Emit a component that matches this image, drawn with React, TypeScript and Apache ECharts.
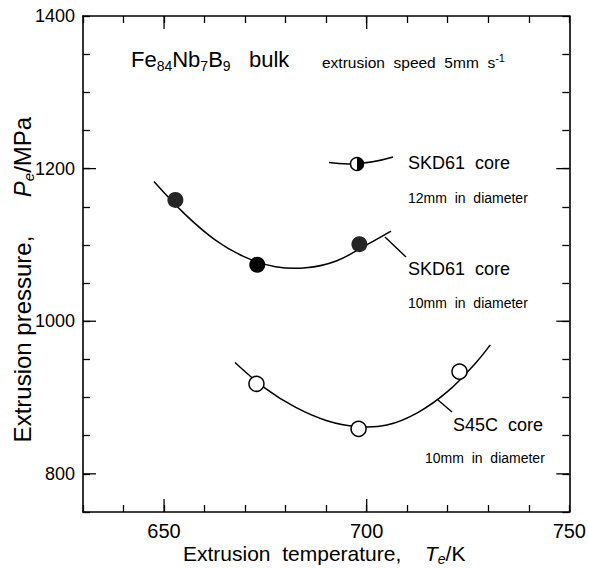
import React, { useEffect, useRef } from 'react';
import * as echarts from 'echarts';

// Axis ranges and tick labels
const xMin = 630;
const xMax = 750;
const yMin = 750;
const yMax = 1400;
const xTickLabels = [650, 700, 750];
const yTickLabels = [800, 1000, 1200, 1400];
const xMajorTicks = [650, 700];
const yMajorTicks = [800, 1000, 1200];

// Fitted curves
const skd61Curve = [
  [647.5, 1183], [655, 1141], [662.5, 1107], [670, 1084], [677.5, 1071.5],
  [685, 1070], [692.5, 1079], [700, 1100], [706, 1118],
];
const s45cCurve = [
  [667.5, 946], [675, 912], [682.5, 887], [690, 870], [697.5, 862],
  [705, 864], [712.5, 880], [720, 908], [727, 946], [730.5, 969],
];

// Measured points
const skd61ShadedPoints = [[652.8, 1159], [698.2, 1101]];
const skd61SolidPoints = [[673, 1074]];
const s45cPoints = [[672.8, 918], [698, 859], [722.9, 934]];

const FONT = '"Liberation Sans", Arial, Helvetica, sans-serif';

function curveSeries(name: string, pts: number[][]) {
  return {
    name, type: 'custom', xAxisIndex: 0, yAxisIndex: 0, silent: true, z: 3,
    data: pts,
    renderItem: (params: any, api: any) => {
      if (params.dataIndex !== 0) return null;
      return {
        type: 'polyline',
        shape: { points: pts.map((p) => api.coord(p)), smooth: 0.35 },
        style: { stroke: '#000', lineWidth: 1.5, fill: null },
      };
    },
  };
}

export default function App() {
  const ref = useRef<HTMLDivElement>(null);

  useEffect(() => {
    const chart = echarts.init(ref.current!, null, { renderer: 'svg' });
    const axisLine = { show: true, lineStyle: { color: '#000', width: 1.6 } };
    const minorTick = { show: true, inside: true, length: 7, lineStyle: { color: '#000', width: 1.3 } };
    const tickStyle = { stroke: '#000', lineWidth: 1.3 };

    const option: any = {
      animation: false,
      backgroundColor: '#fff',
      grid: { left: 83, right: 19, top: 16, bottom: 56, containLabel: false },
      xAxis: [
        {
          type: 'value', min: xMin, max: xMax, interval: 10, position: 'bottom',
          axisLine, axisTick: minorTick, splitLine: { show: false },
          axisLabel: {
            formatter: (v: number) => (xTickLabels.includes(Math.round(v)) ? String(Math.round(v)) : ''),
            color: '#000', fontSize: 20, fontFamily: FONT, margin: 9,
          },
        },
        {
          type: 'value', min: xMin, max: xMax, interval: 10, position: 'top',
          axisLine, axisTick: minorTick, splitLine: { show: false }, axisLabel: { show: false },
        },
      ],
      yAxis: [
        {
          type: 'value', min: yMin, max: yMax, interval: 50, position: 'left',
          axisLine, axisTick: minorTick, splitLine: { show: false },
          axisLabel: {
            formatter: (v: number) => (yTickLabels.includes(Math.round(v)) ? String(Math.round(v)) : ''),
            color: '#000', fontSize: 18, fontFamily: FONT, margin: 8,
          },
        },
        {
          type: 'value', min: yMin, max: yMax, interval: 50, position: 'right',
          axisLine, axisTick: minorTick, splitLine: { show: false }, axisLabel: { show: false },
        },
      ],
      series: [
        {
          type: 'custom', xAxisIndex: 0, yAxisIndex: 0, silent: true, z: 5,
          data: xMajorTicks.map((v) => [v, yMin]),
          renderItem: (params: any, api: any) => {
            const b = api.coord([api.value(0), yMin]);
            const t = api.coord([api.value(0), yMax]);
            return {
              type: 'group',
              children: [
                { type: 'line', shape: { x1: b[0], y1: b[1], x2: b[0], y2: b[1] - 13 }, style: tickStyle },
                { type: 'line', shape: { x1: t[0], y1: t[1], x2: t[0], y2: t[1] + 13 }, style: tickStyle },
              ],
            };
          },
        },
        {
          type: 'custom', xAxisIndex: 0, yAxisIndex: 0, silent: true, z: 5,
          data: yMajorTicks.map((v) => [xMin, v]),
          renderItem: (params: any, api: any) => {
            const l = api.coord([xMin, api.value(1)]);
            const r = api.coord([xMax, api.value(1)]);
            return {
              type: 'group',
              children: [
                { type: 'line', shape: { x1: l[0], y1: l[1], x2: l[0] + 13, y2: l[1] }, style: tickStyle },
                { type: 'line', shape: { x1: r[0], y1: r[1], x2: r[0] - 13, y2: r[1] }, style: tickStyle },
              ],
            };
          },
        },
        curveSeries('SKD61 curve', skd61Curve),
        curveSeries('S45C curve', s45cCurve),
        {
          name: 'SKD61 shaded', type: 'scatter', data: skd61ShadedPoints, symbolSize: 16, z: 4,
          itemStyle: { color: '#262626', opacity: 1 },
        },
        {
          name: 'SKD61 solid', type: 'scatter', data: skd61SolidPoints, symbolSize: 16, z: 4,
          itemStyle: { color: '#000', opacity: 1 },
        },
        {
          name: 'S45C', type: 'scatter', data: s45cPoints, symbolSize: 15, z: 4,
          itemStyle: { color: '#fff', borderColor: '#000', borderWidth: 1.5, opacity: 1 },
        },
      ],
      graphic: [
        {
          type: 'text', x: 131, y: 59, z: 100,
          style: {
            text: '{n|Fe}{s|84}{n|Nb}{s|7}{n|B}{s|9}{n|\u00a0\u00a0\u00a0bulk}',
            align: 'left', verticalAlign: 'middle',
            rich: {
              n: { fontSize: 22, lineHeight: 27, fontFamily: FONT, fill: '#000' },
              s: { fontSize: 14, lineHeight: 14, verticalAlign: 'bottom', fontFamily: FONT, fill: '#000' },
            },
          },
        },
        {
          type: 'text', x: 322, y: 62, z: 100,
          style: {
            text: '{n|extrusion\u00a0\u00a0speed\u00a0\u00a05mm\u00a0\u00a0s}{u|-1}',
            align: 'left', verticalAlign: 'middle',
            rich: {
              n: { fontSize: 15.5, lineHeight: 20, fontFamily: FONT, fill: '#000' },
              u: { fontSize: 11, lineHeight: 11, verticalAlign: 'top', fontFamily: FONT, fill: '#000' },
            },
          },
        },
        // legend entry (12 mm core)
        {
          type: 'bezierCurve', z: 100,
          shape: { x1: 329, y1: 162.5, x2: 393, y2: 157, cpx1: 360, cpy1: 167 },
          style: { stroke: '#000', lineWidth: 1.5, fill: null },
        },
        {
          type: 'circle', z: 101, shape: { cx: 357, cy: 164, r: 6.5 },
          style: { fill: '#fff', stroke: '#000', lineWidth: 1.4 },
        },
        {
          type: 'sector', z: 102,
          shape: { cx: 357, cy: 164, r0: 0, r: 6.5, startAngle: -Math.PI / 2, endAngle: Math.PI / 2 },
          style: { fill: '#000' },
        },
        {
          type: 'text', x: 408, y: 163, z: 100,
          style: { text: 'SKD61\u00a0\u00a0core', fontSize: 18, fontFamily: FONT, fill: '#000', align: 'left', verticalAlign: 'middle' },
        },
        {
          type: 'text', x: 408, y: 198, z: 100,
          style: { text: '12mm\u00a0\u00a0in\u00a0\u00a0diameter', fontSize: 14, fontFamily: FONT, fill: '#000', align: 'left', verticalAlign: 'middle' },
        },
        // 10 mm SKD61 label
        {
          type: 'line', z: 100, shape: { x1: 385, y1: 237, x2: 406, y2: 257 },
          style: { stroke: '#000', lineWidth: 1.4 },
        },
        {
          type: 'text', x: 408, y: 269, z: 100,
          style: { text: 'SKD61\u00a0\u00a0core', fontSize: 18, fontFamily: FONT, fill: '#000', align: 'left', verticalAlign: 'middle' },
        },
        {
          type: 'text', x: 408, y: 303, z: 100,
          style: { text: '10mm\u00a0\u00a0in\u00a0\u00a0diameter', fontSize: 14, fontFamily: FONT, fill: '#000', align: 'left', verticalAlign: 'middle' },
        },
        // S45C label
        {
          type: 'line', z: 100, shape: { x1: 438, y1: 400, x2: 452, y2: 412 },
          style: { stroke: '#000', lineWidth: 1.4 },
        },
        {
          type: 'text', x: 453, y: 425, z: 100,
          style: { text: 'S45C\u00a0\u00a0core', fontSize: 18, fontFamily: FONT, fill: '#000', align: 'left', verticalAlign: 'middle' },
        },
        {
          type: 'text', x: 425, y: 458, z: 100,
          style: { text: '10mm\u00a0\u00a0in\u00a0\u00a0diameter', fontSize: 14, fontFamily: FONT, fill: '#000', align: 'left', verticalAlign: 'middle' },
        },
        // axis titles
        {
          type: 'text', x: 183, y: 553, z: 100,
          style: { text: 'Extrusion\u00a0\u00a0temperature,', fontSize: 21, fontFamily: FONT, fill: '#000', align: 'left', verticalAlign: 'middle' },
        },
        {
          type: 'text', x: 425, y: 553, z: 100,
          style: {
            text: '{i|T}{s|e}{n|/K}', align: 'left', verticalAlign: 'middle',
            rich: {
              i: { fontSize: 21, lineHeight: 25, fontStyle: 'italic', fontFamily: FONT, fill: '#000' },
              s: { fontSize: 14, lineHeight: 14, verticalAlign: 'bottom', fontStyle: 'italic', fontFamily: FONT, fill: '#000' },
              n: { fontSize: 21, lineHeight: 25, fontFamily: FONT, fill: '#000' },
            },
          },
        },
        {
          type: 'text', x: 22, y: 339, rotation: Math.PI / 2, z: 100,
          style: { text: 'Extrusion pressure,', fontSize: 24, fontFamily: FONT, fill: '#000', align: 'center', verticalAlign: 'middle' },
        },
        {
          type: 'text', x: 22, y: 157, rotation: Math.PI / 2, z: 100,
          style: {
            text: '{i|P}{s|e}{n|/MPa}', align: 'center', verticalAlign: 'middle',
            rich: {
              i: { fontSize: 24, lineHeight: 28, fontStyle: 'italic', fontFamily: FONT, fill: '#000' },
              s: { fontSize: 15, lineHeight: 15, verticalAlign: 'bottom', fontStyle: 'italic', fontFamily: FONT, fill: '#000' },
              n: { fontSize: 24, lineHeight: 28, fontFamily: FONT, fill: '#000' },
            },
          },
        },
      ],
    };

    chart.setOption(option);
    return () => chart.dispose();
  }, []);

  return (
    <div
      ref={ref}
      style={{ position: 'fixed', left: 0, top: 0, width: 589, height: 568, background: '#fff' }}
    />
  );
}
